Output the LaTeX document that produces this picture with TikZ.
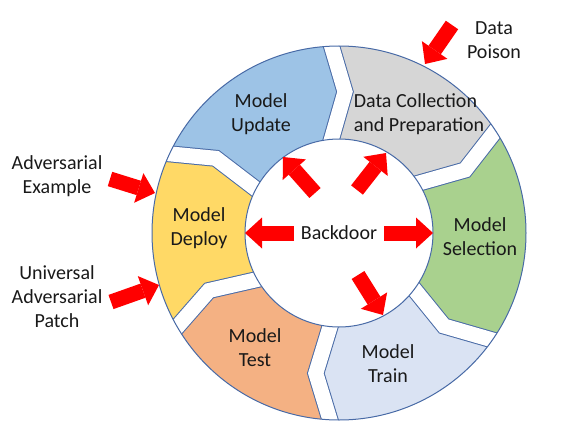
\documentclass[tikz,border=0pt]{standalone}
\usepackage{fontspec}
\setmainfont{Carlito}
\usetikzlibrary{arrows.meta,calc}
\definecolor{ringline}{RGB}{72,106,166}
\definecolor{cupdate}{RGB}{157,195,230}
\definecolor{cdata}{RGB}{214,214,214}
\definecolor{csel}{RGB}{169,209,142}
\definecolor{ctrain}{RGB}{218,227,243}
\definecolor{ctest}{RGB}{244,177,131}
\definecolor{cdeploy}{RGB}{255,217,102}
\begin{document}
\begin{tikzpicture}[x=1pt,y=-1pt,
  txt/.style={font=\fontsize{20}{24}\selectfont, align=center, inner sep=0pt, text=black!90},
  redarrow/.style={draw=red, line width=15pt, -{Triangle[width=31pt,length=17pt,line width=0pt]}}]
\useasboundingbox (0,0) rectangle (565,436);
\coordinate (C) at (339,233);
% gap centre lines: outer (O), middle (M), inner (I)
\coordinate (O1) at (331.7,46.7);  \coordinate (M1) at (345,91.7);    \coordinate (I1) at (331.7,138.3);
\coordinate (O2) at (495,131.5);   \coordinate (M2) at (465,170);     \coordinate (I2) at (417.5,183.5);
\coordinate (O3) at (492.5,340);   \coordinate (M3) at (444,326);     \coordinate (I3) at (414,289);
\coordinate (O4) at (330,420);     \coordinate (M4) at (315.8,373.3); \coordinate (I4) at (330,326.7);
\coordinate (O5) at (177.5,326.5); \coordinate (M5) at (209,290.5);   \coordinate (I5) at (255,280);
\coordinate (O6) at (168.3,153.7); \coordinate (M6) at (215.8,158.3); \coordinate (I6) at (255,188.3);
\foreach \k in {1,...,6}{
  \coordinate (E\k) at ($(O\k)!-60pt!(M\k)$);
  \coordinate (J\k) at ($(I\k)!-30pt!(M\k)$);
}
\coordinate (FU) at ($(C)+(123.65:300pt)$);
\coordinate (FD) at ($(C)+(62.6:300pt)$);
\coordinate (FS) at ($(C)+(-0.9:300pt)$);
\coordinate (FT) at ($(C)+(-63.85:300pt)$);
\coordinate (FE) at ($(C)+(238.6:300pt)$);
\coordinate (FP) at ($(C)+(182.6:300pt)$);
\begin{scope}
  \clip (C) circle[radius=187pt];
  \fill[cupdate] (C) -- (I6) -- (M6) -- (O6) -- (E6) -- (FU) -- (E1) -- (O1) -- (M1) -- (I1) -- cycle;
  \fill[cdata]   (C) -- (I1) -- (M1) -- (O1) -- (E1) -- (FD) -- (E2) -- (O2) -- (M2) -- (I2) -- cycle;
  \fill[csel]    (C) -- (I2) -- (M2) -- (O2) -- (E2) -- (FS) -- (E3) -- (O3) -- (M3) -- (I3) -- cycle;
  \fill[ctrain]  (C) -- (I3) -- (M3) -- (O3) -- (E3) -- (FT) -- (E4) -- (O4) -- (M4) -- (I4) -- cycle;
  \fill[ctest]   (C) -- (I4) -- (M4) -- (O4) -- (E4) -- (FE) -- (E5) -- (O5) -- (M5) -- (I5) -- cycle;
  \fill[cdeploy] (C) -- (I5) -- (M5) -- (O5) -- (E5) -- (FP) -- (E6) -- (O6) -- (M6) -- (I6) -- cycle;
  \foreach \k in {1,...,6}{
    \draw[ringline, line width=17pt] (J\k) -- (I\k) -- (M\k) -- (O\k) -- (E\k);
    \draw[white, line width=15pt] (J\k) -- (I\k) -- (M\k) -- (O\k) -- (E\k);
  }
\end{scope}
\draw[ringline, line width=1pt] (C) circle[radius=187pt];
\draw[ringline, fill=white, line width=1pt] (C) circle[radius=94pt];
% labels
\node[txt] (tUpdate) at (261,114) {Model\\Update};
\node[txt, align=left] (tData) at (419,114) {Data Collection\\and Preparation};
\node[txt] (tSel) at (480,237) {Model\\Selection};
\node[txt] (tTrain) at (388,364) {Model\\Train};
\node[txt] (tTest) at (255,348) {Model\\Test};
\node[txt] (tDeploy) at (199,228) {Model\\Deploy};
\node[txt] (tBack) at (339,233) {Backdoor};
\node[txt] (tDP) at (494,40) {Data\\Poison};
\node[txt] (tAE) at (57,176) {Adversarial\\Example};
\node[txt] (tUAP) at (57,297) {Universal\\Adversarial\\Patch};
% arrows
\coordinate (aLt) at (294,233); \coordinate (aLh) at (245,233);
\coordinate (aRt) at (384,233); \coordinate (aRh) at (433,233);
\coordinate (aULt) at (315,193); \coordinate (aULh) at (283,157);
\coordinate (aURt) at (357,190); \coordinate (aURh) at (386,153);
\coordinate (aDRt) at (358,275); \coordinate (aDRh) at (383,315);
\coordinate (aDPt) at (452,25); \coordinate (aDPh) at (425,64);
\coordinate (aAEt) at (110,179); \coordinate (aAEh) at (155,193);
\coordinate (aUPt) at (111,302); \coordinate (aUPh) at (159,285);
\draw[redarrow] (aLt) -- (aLh);
\draw[redarrow] (aRt) -- (aRh);
\draw[redarrow] (aULt) -- (aULh);
\draw[redarrow] (aURt) -- (aURh);
\draw[redarrow] (aDRt) -- (aDRh);
\draw[redarrow] (aDPt) -- (aDPh);
\draw[redarrow] (aAEt) -- (aAEh);
\draw[redarrow] (aUPt) -- (aUPh);
\end{tikzpicture}
\end{document}
